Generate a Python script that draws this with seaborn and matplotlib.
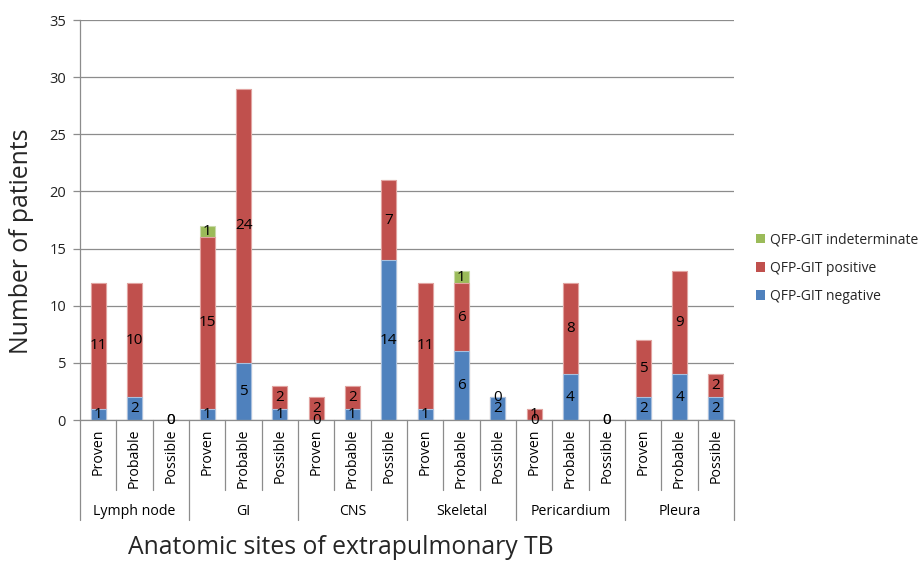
import numpy as np
import pandas as pd
import matplotlib
matplotlib.use("Agg")
import matplotlib.pyplot as plt
import seaborn as sns
from matplotlib.patches import Patch
from matplotlib.transforms import blended_transform_factory

# Extrapulmonary TB sites and diagnostic certainty levels
sites = ["Lymph node", "GI", "CNS", "Skeletal", "Pericardium", "Pleura"]
levels = ["Proven", "Probable", "Possible"]

# Patients per QFT-GIT result, one value per (site, level) slot
negative = [1, 2, 0, 1, 5, 1, 0, 1, 14, 1, 6, 2, 0, 4, 0, 2, 4, 2]
positive = [11, 10, 0, 15, 24, 2, 2, 2, 7, 11, 6, 0, 1, 8, 0, 5, 9, 2]
indeterminate = [np.nan, np.nan, np.nan, 1, np.nan, np.nan, np.nan, np.nan, np.nan,
                 np.nan, 1, np.nan, np.nan, np.nan, np.nan, np.nan, np.nan, np.nan]

series_names = ["QFP-GIT negative", "QFP-GIT positive", "QFP-GIT indeterminate"]
y_ticks = [0, 5, 10, 15, 20, 25, 30, 35]

BLUE, RED, GREEN = "#4F81BD", "#C0504D", "#9BBB59"
GRAY = "#8C8C8C"

sns.set_theme(style="white")
plt.rcParams["font.family"] = ["Open Sans", "DejaVu Sans"]

slots = [f"{s}|{l}" for s in sites for l in levels]
neg = np.array(negative, dtype=float)
pos = np.array(positive, dtype=float)
ind = np.array(indeterminate, dtype=float)
df = pd.DataFrame({
    "slot": slots,
    "neg": neg,
    "negpos": neg + pos,
    "total": neg + pos + np.nan_to_num(ind),
})

fig = plt.figure(figsize=(9.21, 5.61), dpi=100)
ax = fig.add_axes([80 / 921, 141 / 561, 654 / 921, 400 / 561])

# Stacked bars drawn as cumulative layers, back to front
common = dict(data=df, x="slot", order=slots, width=0.41, saturation=1,
              linewidth=0.8, ax=ax)
sns.barplot(y="total", color=GREEN, edgecolor="#C9DAAA", **common)
sns.barplot(y="negpos", color=RED, edgecolor="#E2A3A1", **common)
sns.barplot(y="neg", color=BLUE, edgecolor="#A9C0DE", **common)

# Segment value labels
LABEL_SIZE = 11
for i in range(len(slots)):
    ax.text(i, neg[i] / 2, f"{int(neg[i])}", ha="center", va="center",
            fontsize=LABEL_SIZE, color="black")
    ax.text(i, neg[i] + pos[i] / 2, f"{int(pos[i])}", ha="center", va="center",
            fontsize=LABEL_SIZE, color="black")
    if not np.isnan(ind[i]):
        ax.text(i, neg[i] + pos[i] + ind[i] / 2, f"{int(ind[i])}", ha="center",
                va="center", fontsize=LABEL_SIZE, color="black")

ax.set_ylim(0, 35)
ax.set_yticks(y_ticks)
ax.set_xlim(-0.5, len(slots) - 0.5)
ax.yaxis.grid(True, color=GRAY, linewidth=0.9)
ax.set_axisbelow(True)
ax.set_xlabel("")
ax.set_ylabel("")
ax.set_xticks([])
for side in ["top", "right"]:
    ax.spines[side].set_visible(False)
for side in ["left", "bottom"]:
    ax.spines[side].set_color(GRAY)
    ax.spines[side].set_linewidth(0.9)
ax.tick_params(axis="y", left=True, length=5, width=0.9, color=GRAY,
               labelsize=10.5, labelcolor="#222222", pad=5)

# Two-level category axis: rotated levels, site names, separators
trans = blended_transform_factory(ax.transData, ax.transAxes)
for b in range(len(slots) + 1):
    depth = -0.25 if b % 3 == 0 else -0.175
    ax.plot([b - 0.5, b - 0.5], [0, depth], transform=trans, clip_on=False,
            color=GRAY, linewidth=0.9)
for i, slot in enumerate(slots):
    ax.text(i, -0.022, slot.split("|")[1], rotation=90, ha="center", va="top",
            transform=trans, fontsize=10.2, color="black")
for g, site in enumerate(sites):
    ax.text(3 * g + 1, -0.228, site, ha="center", va="center",
            transform=trans, fontsize=10.2, color="black")

fig.text(341 / 921, 1 - 548 / 561, "Anatomic sites of extrapulmonary TB",
         ha="center", va="center", fontsize=17.8)
fig.text(22 / 921, 1 - 241 / 561, "Number of patients", rotation=90,
         ha="center", va="center", fontsize=17.8)

handles = [Patch(facecolor=c, edgecolor="none") for c in (GREEN, RED, BLUE)]
fig.legend(handles, series_names[::-1], loc="upper left",
           bbox_to_anchor=(750 / 921, 1 - 227 / 561), frameon=False,
           fontsize=10, handlelength=0.65, handleheight=0.65,
           labelspacing=0.95, handletextpad=0.4, borderaxespad=0)

fig.savefig("out.png", dpi=100)
